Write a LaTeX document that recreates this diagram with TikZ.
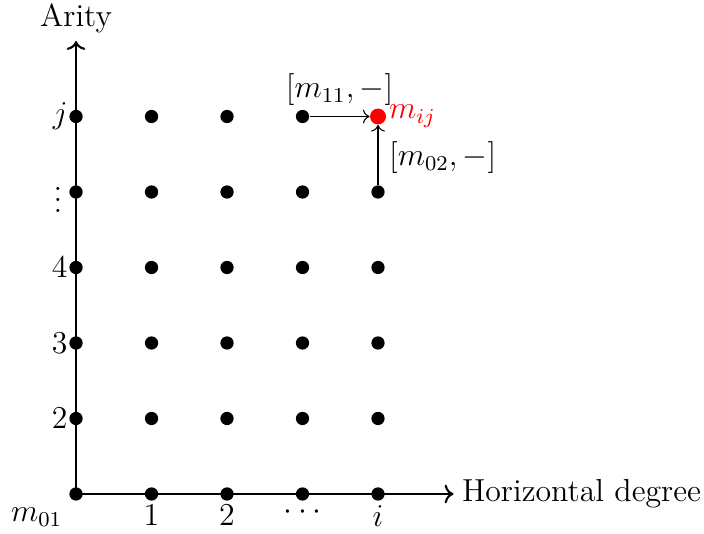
\documentclass[tikz,border=0pt]{standalone}
\usetikzlibrary{arrows.meta}
\begin{document}
\begin{tikzpicture}[font=\large,
  dot/.style={circle,fill=black,inner sep=0pt,minimum size=5pt},
  reddot/.style={circle,fill=red,inner sep=0pt,minimum size=6pt},
  axis/.style={thick,->},
  conn/.style={->}]
\useasboundingbox (-1.007,-0.517) rectangle (8.318,6.543);
% axes
\coordinate (O) at (0,0);
\coordinate (xend) at (5,0);
\coordinate (yend) at (0,6);
\draw[axis] (O) -- (xend);
\draw[axis] (O) -- (yend);
\node[anchor=west,inner sep=3pt] (xlab) at (xend) {Horizontal degree};
\node[anchor=south,inner sep=3pt] (ylab) at (yend) {Arity};
% dots
\foreach \i in {0,...,4}{
  \foreach \j in {0,...,5}{
    \ifnum\i=4 \ifnum\j=5 \else \node[dot] (d\i\j) at (\i,\j) {}; \fi
    \else \node[dot] (d\i\j) at (\i,\j) {}; \fi
  }
}
\node[reddot] (d45) at (4,5) {};
% axis labels
\node[below left,inner sep=5pt] (l00) at (d00) {$m_{01}$};
\node[below,inner sep=4pt] (lx1) at (d10) {$1$};
\node[below,inner sep=4pt] (lx2) at (d20) {$2$};
\node[below,inner sep=4pt] (lx3) at (d30) {$\cdots$};
\node[below,inner sep=4pt] (lx4) at (d40) {$i$};
\node[left,inner sep=3pt] (ly2) at (d01) {$2$};
\node[left,inner sep=3pt] (ly3) at (d02) {$3$};
\node[left,inner sep=3pt] (ly4) at (d03) {$4$};
\node[left,inner sep=5pt] (ly5) at (d04) {$\vdots$};
\node[left,inner sep=3pt] (ly6) at (d05) {$j$};
\node[right,inner sep=4pt,text=red] (mij) at (d45) {$m_{ij}$};
% connectors
\draw[conn] (d35) -- node[above,inner sep=4pt] {$[m_{11},-]$} (d45);
\draw[conn] (d44) -- node[right,inner sep=4pt,pos=0.45] {$[m_{02},-]$} (d45);
\end{tikzpicture}
\end{document}
